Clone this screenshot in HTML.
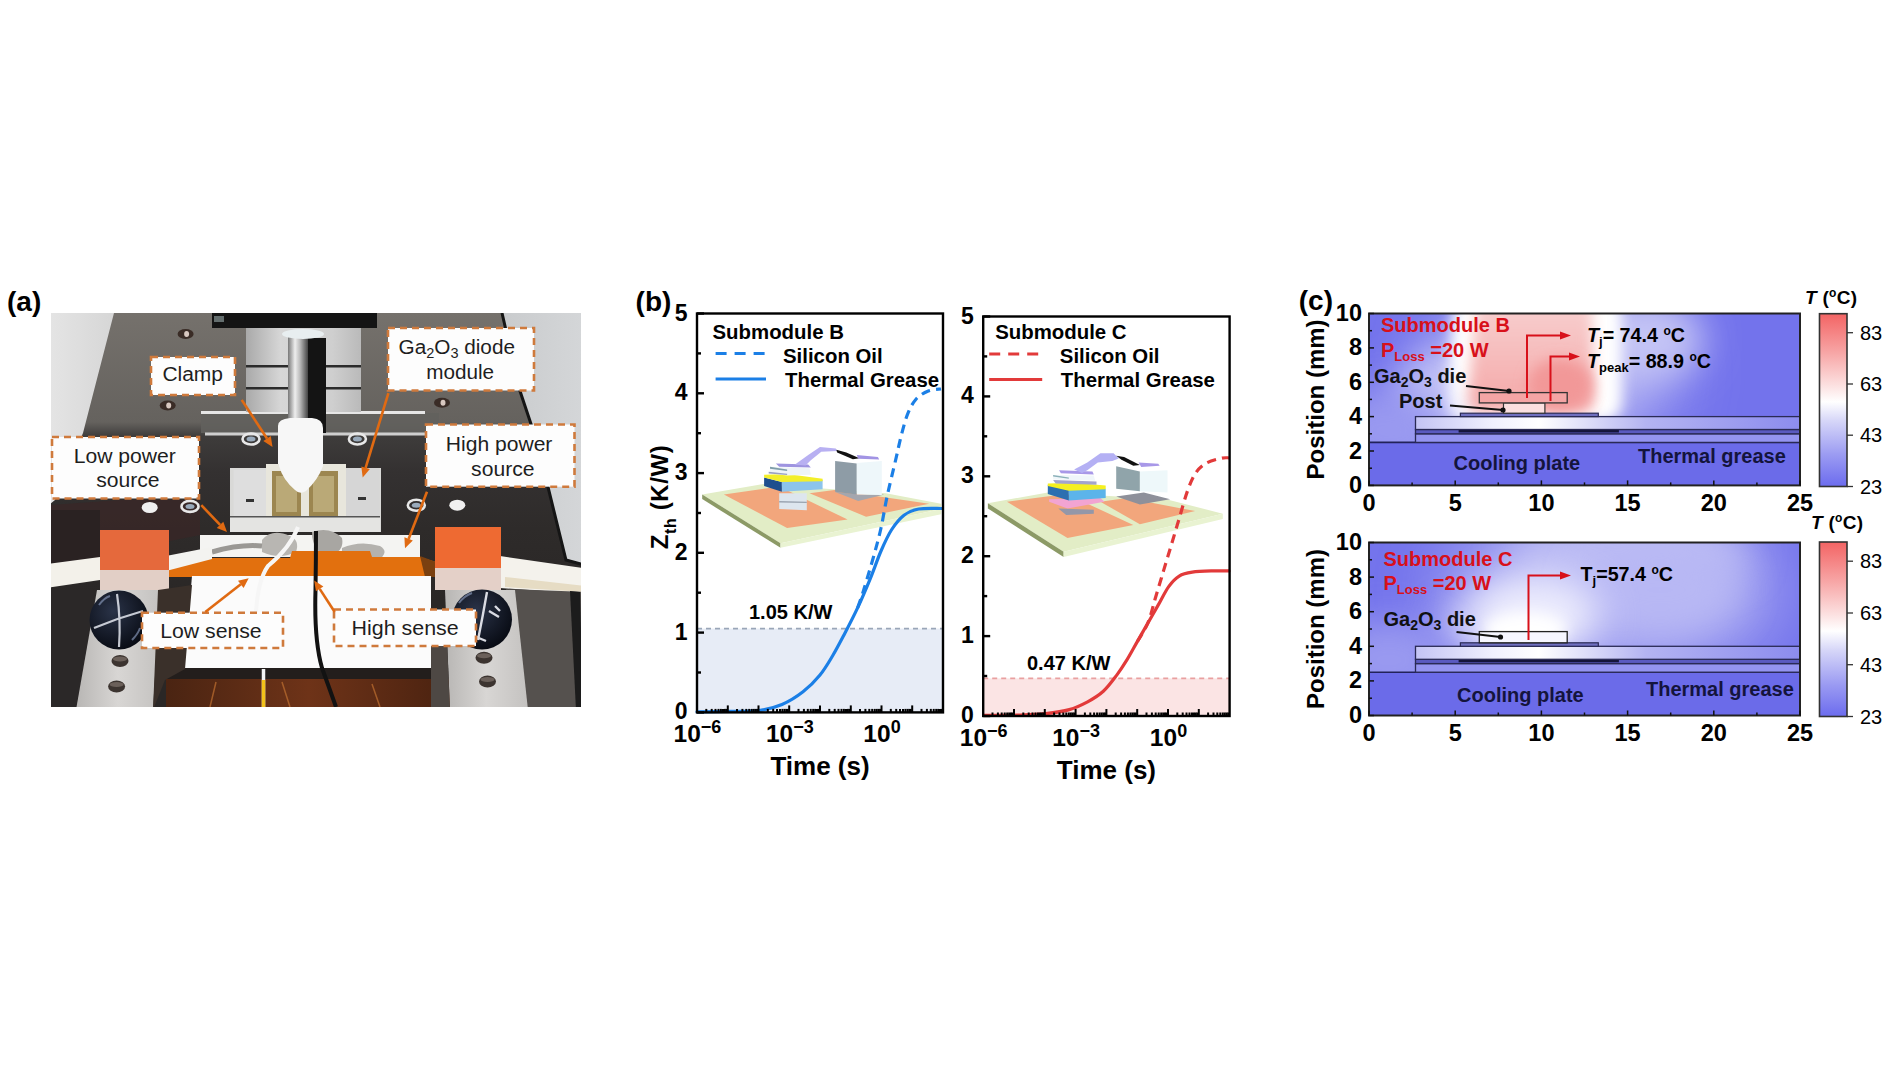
<!DOCTYPE html>
<html><head><meta charset="utf-8"><style>
html,body{margin:0;padding:0;background:#fff;}
body{width:1900px;height:1070px;overflow:hidden;}
svg{display:block;}
text{font-family:"Liberation Sans",sans-serif;}
</style></head><body>
<svg width="1900" height="1070" viewBox="0 0 1900 1070" font-family="Liberation Sans, sans-serif">
<rect width="1900" height="1070" fill="#fff"/>
<text x="7" y="310.5" font-size="28" font-weight="bold">(a)</text>
<defs><clipPath id="clipa"><rect x="51" y="313" width="530" height="394"/></clipPath><linearGradient id="bgA" x1="0" x2="1" y1="0" y2="0"><stop offset="0" stop-color="#e4e4e4"/><stop offset="0.12" stop-color="#d6d6d6"/><stop offset="0.85" stop-color="#c9cbcd"/><stop offset="1" stop-color="#d4d6d8"/></linearGradient><linearGradient id="plateG" x1="0" x2="0" y1="313" y2="600" gradientUnits="userSpaceOnUse"><stop offset="0" stop-color="#75716c"/><stop offset="0.38" stop-color="#65625e"/><stop offset="0.43" stop-color="#3e3c3b"/><stop offset="0.55" stop-color="#343131"/><stop offset="0.75" stop-color="#2e2b2a"/><stop offset="1" stop-color="#2a2726"/></linearGradient><linearGradient id="metal" x1="0" x2="1"><stop offset="0" stop-color="#777"/><stop offset="0.35" stop-color="#eee"/><stop offset="0.6" stop-color="#bbb"/><stop offset="1" stop-color="#444"/></linearGradient><linearGradient id="blockG" x1="0" x2="1"><stop offset="0" stop-color="#a9a9a9"/><stop offset="0.3" stop-color="#d6d6d6"/><stop offset="0.75" stop-color="#cfcfcf"/><stop offset="1" stop-color="#bababa"/></linearGradient><linearGradient id="brown" x1="0" x2="1"><stop offset="0" stop-color="#4a2412"/><stop offset="0.5" stop-color="#6e3318"/><stop offset="1" stop-color="#4a2210"/></linearGradient><linearGradient id="holderG" x1="0" x2="1"><stop offset="0" stop-color="#b8b6b4"/><stop offset="0.5" stop-color="#d8d6d4"/><stop offset="1" stop-color="#c4c2c0"/></linearGradient><radialGradient id="knobG" cx="0.4" cy="0.35" r="0.7"><stop offset="0" stop-color="#2a3348"/><stop offset="1" stop-color="#070a12"/></radialGradient></defs>
<g clip-path="url(#clipa)">
<rect x="51" y="313" width="530" height="394" fill="url(#bgA)"/>
<polygon points="114,313 502,313 520,391 531,424 548,487 566,560 590,566 590,710 40,710 40,512 55,500 83,433" fill="url(#plateG)"/>
<polyline points="502,313 520,391 531,424 548,487 566,560 581,564" fill="none" stroke="#151515" stroke-width="3"/>
<polygon points="51,505 120,500 200,500 200,535 51,565" fill="#3a2626" opacity="0.7"/>
<rect x="201" y="413" width="238" height="20" fill="#62605d" opacity="0.9"/>
<rect x="201" y="411" width="224" height="3" fill="#e6e6e6"/>
<rect x="205" y="432.5" width="234" height="3" fill="#cfcfcf"/>
<rect x="212" y="313" width="165" height="15" fill="#141414"/>
<rect x="214" y="316" width="10" height="6" fill="#9aa" opacity="0.6"/>
<rect x="246" y="328" width="115" height="84" fill="url(#blockG)"/>
<rect x="246" y="365" width="115" height="2.5" fill="#2b2b2b"/>
<rect x="246" y="387" width="115" height="2.5" fill="#2b2b2b"/>
<rect x="307" y="338" width="19" height="95" fill="#141414"/>
<rect x="288" y="336" width="20" height="92" fill="url(#metal)"/>
<ellipse cx="303" cy="334" rx="21" ry="5" fill="#e8eef0"/>
<path d="M278,426 Q278,419 290,418 L312,418 Q323,419 323,428 L323,466 Q318,480 306,491 Q300,495 295,490 Q283,480 278,466 Z" fill="#f7f7f7"/>
<rect x="230" y="468" width="151" height="64" fill="#d9d9d7"/>
<rect x="233.5" y="470" width="34" height="46" fill="#dedede"/>
<rect x="345.5" y="468" width="34" height="48" fill="#d6d6d6"/>
<rect x="266" y="464" width="80" height="53" fill="#e8e6dc"/>
<rect x="272" y="471" width="29" height="46" fill="#9c8650"/>
<rect x="309" y="471" width="29" height="46" fill="#9c8650"/>
<rect x="276" y="476" width="21" height="36" fill="#c8b888" opacity="0.7"/>
<rect x="313" y="476" width="21" height="36" fill="#c8b888" opacity="0.7"/>
<path d="M279,455 L323,455 L323,466 Q318,480 306,491 Q300,495 295,490 Q283,480 279,466 Z" fill="#f7f7f7"/>
<rect x="246" y="499" width="8" height="3" fill="#333"/><rect x="358" y="497" width="8" height="3" fill="#333"/>
<rect x="230" y="517" width="150" height="15" fill="#e4e4e2"/>
<rect x="230" y="516" width="150" height="1.5" fill="#555"/>
<ellipse cx="185.6" cy="334" rx="8" ry="5" fill="#3a2c26"/><ellipse cx="186.6" cy="334" rx="2.5" ry="3" fill="#d8c8c0"/>
<ellipse cx="167.7" cy="405.5" rx="8" ry="5" fill="#3a2c26"/><ellipse cx="168.7" cy="405.5" rx="2.5" ry="3" fill="#d8c8c0"/>
<ellipse cx="442" cy="402.7" rx="8" ry="5" fill="#3a2c26"/><ellipse cx="443" cy="402.7" rx="2.5" ry="3" fill="#d8c8c0"/>
<ellipse cx="251" cy="439" rx="8.5" ry="5.5" fill="none" stroke="#e8e8e8" stroke-width="2.6"/><ellipse cx="251" cy="439" rx="4.5" ry="2.5" fill="#9ab"/>
<ellipse cx="357.4" cy="439" rx="8.5" ry="5.5" fill="none" stroke="#e8e8e8" stroke-width="2.6"/><ellipse cx="357.4" cy="439" rx="4.5" ry="2.5" fill="#9ab"/>
<ellipse cx="190" cy="506.4" rx="8.5" ry="5.5" fill="none" stroke="#e8e8e8" stroke-width="2.6"/><ellipse cx="190" cy="506.4" rx="4.5" ry="2.5" fill="#9ab"/>
<ellipse cx="416.3" cy="505.2" rx="8.5" ry="5.5" fill="none" stroke="#e8e8e8" stroke-width="2.6"/><ellipse cx="416.3" cy="505.2" rx="4.5" ry="2.5" fill="#9ab"/>
<ellipse cx="149.7" cy="507.5" rx="8" ry="5.5" fill="#f0f0f0"/>
<ellipse cx="457.3" cy="505.2" rx="8" ry="5.5" fill="#f0f0f0"/>
<rect x="200" y="535" width="220" height="22" fill="#f4f4f2"/>
<path d="M262,540 Q272,528 290,536 Q300,540 296,552 Q280,560 262,552 Z" fill="#b8b6b2"/>
<path d="M312,532 Q330,526 342,538 Q345,552 328,556 Q312,552 312,532 Z" fill="#a8a6a2"/>
<path d="M342,548 Q360,540 380,546 Q390,552 378,560 Q360,562 342,556 Z" fill="#b4b2ae"/>
<path d="M212,552 Q240,544 262,546" fill="none" stroke="#9a9894" stroke-width="5"/>
<polygon points="160,562 200,558 290,558 292,551 370,551 372,557 420,557 436,562 436,577 160,577" fill="#e2700e"/>
<polygon points="420,556 436,562 436,577 425,577" fill="#7a4010"/>
<polygon points="192,576 431,576 431,669 184,669" fill="#fbfbfb"/>
<rect x="160" y="668" width="292" height="11" fill="#231e1c"/>
<rect x="166" y="679" width="286" height="30" fill="url(#brown)"/>
<path d="M210,707 L216,682 M290,707 L282,682 M380,707 L372,684" stroke="#c07030" stroke-width="1.5" opacity="0.7"/>
<path d="M298,527 Q290,548 268,566 Q258,580 256,612" fill="none" stroke="#f6f6f6" stroke-width="4"/>
<path d="M263.5,669 L263.5,707" stroke="#f4f4f4" stroke-width="3.5"/><path d="M263.5,680 L263.5,707" stroke="#f2c21a" stroke-width="3.5"/>
<path d="M316,531 Q316,560 315.5,590 Q314,640 322,668 Q330,690 336,707" fill="none" stroke="#121212" stroke-width="4"/>
<polygon points="51,510 100,510 100,565 51,566" fill="#2a2222"/>
<polygon points="40,565 100,557 100,580 40,589" fill="#f3f1ea"/>
<polygon points="166,556 212,547 212,559 166,571" fill="#f3f3f0"/>
<polygon points="500,556 590,569 590,594 500,588" fill="#f4f2ec"/>
<polygon points="505,577 585,586 585,592 505,587" fill="#e6dcc4"/>
<rect x="100" y="530" width="69" height="41" fill="#e5693c"/>
<rect x="100" y="570" width="69" height="20" fill="#e2cfc6"/>
<rect x="435" y="527" width="66" height="42" fill="#ee6a32"/>
<rect x="435" y="568" width="66" height="22" fill="#e4d0c8"/>
<polygon points="40,590 97,590 76,710 40,710" fill="#2b2828"/>
<polygon points="97,590 160,590 153,710 76,710" fill="url(#holderG)"/>
<polygon points="158,590 192,585 185,669 165,680 153,710" fill="#3a302a"/>
<polygon points="506,589 590,592 590,710 525,710" fill="#55514e"/>
<polygon points="570,591 580,592 583,710 576,710" fill="#1c1c1c"/>
<polygon points="445,590 515,590 528,710 450,710" fill="url(#holderG)"/>
<polygon points="431,640 447,640 450,710 431,710" fill="#4e4844"/>
<ellipse cx="120" cy="661" rx="8.5" ry="6" fill="#3c3430"/><ellipse cx="120" cy="659" rx="7" ry="2.5" fill="#8a7e76" opacity="0.6"/>
<ellipse cx="116.6" cy="686.4" rx="8.5" ry="6" fill="#3c3430"/><ellipse cx="116.6" cy="684.4" rx="7" ry="2.5" fill="#8a7e76" opacity="0.6"/>
<ellipse cx="484" cy="657.8" rx="8.5" ry="6" fill="#3c3430"/><ellipse cx="484" cy="655.8" rx="7" ry="2.5" fill="#8a7e76" opacity="0.6"/>
<ellipse cx="487.5" cy="681.4" rx="8.5" ry="6" fill="#3c3430"/><ellipse cx="487.5" cy="679.4" rx="7" ry="2.5" fill="#8a7e76" opacity="0.6"/>
<circle cx="119" cy="620" r="29.5" fill="url(#knobG)"/>
<path d="M117,594 Q121,620 119,647 M94,628 Q118,618 143,611" fill="none" stroke="#e4e8f0" stroke-width="2.2" opacity="0.85"/>
<path d="M99,605 Q104,598 110,596 M132,640 Q138,634 140,628" fill="none" stroke="#8090b0" stroke-width="2" opacity="0.7"/>
<circle cx="482" cy="619.5" r="30" fill="url(#knobG)"/>
<path d="M487,592 Q483,615 478,640 M489,611 L499,617 M495,606 L500,611 M474,636 L486,641" fill="none" stroke="#eef0f6" stroke-width="2.4" opacity="0.9"/>
<path d="M459,603 Q464,596 472,593" fill="none" stroke="#8090b0" stroke-width="2" opacity="0.7"/>
</g>
<rect x="151" y="357" width="84" height="38" fill="#fdfdfd" stroke="#cf7a3c" stroke-width="2.6" stroke-dasharray="7,5"/>
<text x="162.4" y="381.4" font-size="20" fill="#1e1e1e" textLength="60.6" lengthAdjust="spacingAndGlyphs">Clamp</text>
<line x1="241.7" y1="399.9" x2="267.0" y2="438.5" stroke="#e06a12" stroke-width="2.6"/><polygon points="272.5,446.9 263.3,441.0 270.8,436.1" fill="#e06a12"/>
<rect x="388" y="328" width="146" height="62.5" fill="#fdfdfd" stroke="#cf7a3c" stroke-width="2.6" stroke-dasharray="7,5"/>
<text x="398.5" y="354" font-size="20" fill="#1e1e1e" textLength="116.5" lengthAdjust="spacingAndGlyphs">Ga<tspan font-size="14" dy="4">2</tspan><tspan dy="-4">O</tspan><tspan font-size="14" dy="4">3</tspan><tspan dy="-4"> diode</tspan></text>
<text x="426.2" y="379.2" font-size="20" fill="#1e1e1e" textLength="67.9" lengthAdjust="spacingAndGlyphs">module</text>
<line x1="388.4" y1="393.1" x2="365.6" y2="467.8" stroke="#e06a12" stroke-width="2.6"/><polygon points="362.7,477.4 361.3,466.5 369.9,469.1" fill="#e06a12"/>
<rect x="52" y="437" width="147" height="61.5" fill="#fdfdfd" stroke="#cf7a3c" stroke-width="2.6" stroke-dasharray="7,5"/>
<text x="73.7" y="462.6" font-size="20" fill="#1e1e1e" textLength="102.2" lengthAdjust="spacingAndGlyphs">Low power</text>
<text x="96.2" y="487.3" font-size="20" fill="#1e1e1e" textLength="63.4" lengthAdjust="spacingAndGlyphs">source</text>
<line x1="201.3" y1="505.2" x2="220.1" y2="524.8" stroke="#e06a12" stroke-width="2.6"/><polygon points="227,532 216.8,527.9 223.3,521.7" fill="#e06a12"/>
<rect x="426" y="424.5" width="148.5" height="62.19999999999999" fill="#fdfdfd" stroke="#cf7a3c" stroke-width="2.6" stroke-dasharray="7,5"/>
<text x="445.8" y="450.8" font-size="20" fill="#1e1e1e" textLength="106.6" lengthAdjust="spacingAndGlyphs">High power</text>
<text x="471.1" y="476" font-size="20" fill="#1e1e1e" textLength="63.4" lengthAdjust="spacingAndGlyphs">source</text>
<line x1="427" y1="491.8" x2="408.6" y2="539.0" stroke="#e06a12" stroke-width="2.6"/><polygon points="405,548.3 404.4,537.3 412.8,540.6" fill="#e06a12"/>
<rect x="142" y="612.7" width="141" height="35.299999999999955" fill="#fdfdfd" stroke="#cf7a3c" stroke-width="2.6" stroke-dasharray="7,5"/>
<text x="160.2" y="638.2" font-size="20" fill="#1e1e1e" textLength="101.5" lengthAdjust="spacingAndGlyphs">Low sense</text>
<line x1="205.3" y1="612" x2="240.8" y2="584.3" stroke="#e06a12" stroke-width="2.6"/><polygon points="248.7,578.2 243.6,587.9 238.0,580.8" fill="#e06a12"/>
<rect x="334" y="609.5" width="142" height="36.5" fill="#fdfdfd" stroke="#cf7a3c" stroke-width="2.6" stroke-dasharray="7,5"/>
<text x="351.6" y="635" font-size="20" fill="#1e1e1e" textLength="107.1" lengthAdjust="spacingAndGlyphs">High sense</text>
<line x1="334.7" y1="612" x2="319.7" y2="588.9" stroke="#e06a12" stroke-width="2.6"/><polygon points="314.2,580.5 323.4,586.4 315.9,591.3" fill="#e06a12"/>
<text x="635.6" y="310.8" font-size="28" font-weight="bold">(b)</text>
<text transform="translate(668.2,497.2) rotate(-90)" text-anchor="middle" font-size="24" font-weight="bold" textLength="104" lengthAdjust="spacing">Z<tspan font-size="16" dy="7.5">th</tspan><tspan dy="-7.5"> (K/W)</tspan></text>
<rect x="697" y="628.6" width="246" height="83.8" fill="#e7ecf6"/>
<line x1="697" y1="628.6" x2="943" y2="628.6" stroke="#9aa6b8" stroke-width="1.6" stroke-dasharray="5,4"/>
<polygon points="702.2,494.5 763.4,483.9 885.8,493.2 941.1,503.7 941.1,508.9 780.5,543.2" fill="#e2edc6" />
<polygon points="702.2,494.5 780.5,543.2 780.5,547.8 702.2,499.1" fill="#8c9a66" />
<polygon points="780.5,543.2 941.1,508.9 941.1,514.2 780.5,547.8" fill="#e9f3d2" />
<polygon points="723.9,494.5 779.2,486.6 847.6,519.5 787.1,528.0" fill="#f2a67c" />
<polygon points="809.5,493.2 834.5,489.9 929.2,503.7 866.1,516.8" fill="#f2a67c" />
<polygon points="779.2,493.2 806.8,493.2 806.8,510.3 779.2,508.9" fill="#dde6ee" />
<polygon points="779.2,501.1 806.8,501.7 806.8,503.0 779.2,502.4" fill="#9aa4b0" />
<polygon points="781.8,481.3 822.6,480.0 822.6,489.2 781.8,491.8" fill="#8cc4ec" />
<polygon points="764.1,477.4 781.8,482.0 781.8,491.8 764.1,485.9" fill="#1e4f8e" />
<polygon points="764.1,474.7 787.1,474.1 822.6,478.7 822.6,481.3 781.8,482.0 764.1,477.4" fill="#f3ef2a" />
<polygon points="770.0,466.8 809.5,468.2 810.8,474.7 787.1,475.4 770.0,473.4" fill="#eef4f8" />
<polygon points="770.0,466.8 787.1,469.5 787.1,471.1 770.0,468.7" fill="#7f9eaa" />
<polygon points="768.7,471.8 787.1,473.8 787.1,475.0 768.7,473.4" fill="#9aa0c0" />
<polygon points="775.9,463.6 808.2,464.5 810.8,467.5 779.2,466.8" fill="#9e94e0" />
<polygon points="795.0,464.5 808.2,455.0 820.0,447.1 835.8,448.4 837.1,451.1 821.3,451.7 810.8,460.3 805.5,465.5" fill="#b8b0f2" />
<polygon points="836.4,449.7 846.3,452.4 859.5,458.3 852.9,459.2 837.1,452.4" fill="#111" />
<polygon points="856.8,455.0 877.9,457.0 879.2,459.6 858.2,458.7" fill="#a294e4" />
<polygon points="834.5,491.8 858.2,494.5 884.5,494.5 858.2,501.1" fill="#a4a6ae" />
<polygon points="835.1,460.9 856.8,463.6 856.8,494.5 835.1,491.8" fill="#8e9ca6" />
<polygon points="856.8,462.9 881.8,460.9 881.8,495.1 856.8,494.5" fill="#eef7fa" />
<path d="M697.0,711.8 C702.5,711.7 719.7,711.6 730.0,711.4 C740.3,711.2 750.3,711.6 759.0,710.5 C767.7,709.4 774.7,707.6 782.0,704.5 C789.3,701.4 796.7,696.7 803.0,691.8 C809.3,686.9 815.1,681.0 820.0,675.0 C824.9,669.0 828.3,663.0 832.5,656.0 C836.7,649.0 840.8,641.0 845.0,633.0 C849.2,625.0 853.5,616.8 857.7,607.7 C861.9,598.6 866.5,587.8 870.4,578.3 C874.3,568.8 877.5,559.0 881.0,551.0 C884.5,543.0 887.6,536.0 891.4,530.0 C895.2,524.0 899.5,518.7 904.0,515.2 C908.5,511.7 912.4,510.1 918.7,509.0 C925.0,507.9 938.1,508.6 942.0,508.5" fill="none" stroke="#1b7fe6" stroke-width="3.2" stroke-linecap="round"/>
<path d="M857.7,607.7 C858.8,604.6 861.2,598.1 864.0,589.0 C866.8,579.9 871.8,563.2 874.6,553.0 C877.4,542.8 878.9,537.5 881.0,528.0 C883.1,518.5 884.8,507.2 887.2,496.0 C889.6,484.8 893.0,471.3 895.4,461.0 C897.8,450.7 899.5,442.1 901.6,434.2 C903.7,426.3 905.4,419.4 907.8,413.6 C910.2,407.8 912.6,403.0 916.0,399.2 C919.4,395.4 924.1,392.7 928.3,391.0 C932.5,389.3 938.9,389.3 941.0,389.0" fill="none" stroke="#1b7fe6" stroke-width="3.2" stroke-dasharray="9,6"/>
<rect x="697" y="313.5" width="246" height="398.9" fill="none" stroke="#000" stroke-width="2.4"/>
<line x1="697" y1="712.4" x2="704" y2="712.4" stroke="#000" stroke-width="2.4"/>
<line x1="697" y1="672.5" x2="701" y2="672.5" stroke="#000" stroke-width="2.4"/>
<line x1="697" y1="632.6" x2="704" y2="632.6" stroke="#000" stroke-width="2.4"/>
<line x1="697" y1="592.7" x2="701" y2="592.7" stroke="#000" stroke-width="2.4"/>
<line x1="697" y1="552.8" x2="704" y2="552.8" stroke="#000" stroke-width="2.4"/>
<line x1="697" y1="513.0" x2="701" y2="513.0" stroke="#000" stroke-width="2.4"/>
<line x1="697" y1="473.1" x2="704" y2="473.1" stroke="#000" stroke-width="2.4"/>
<line x1="697" y1="433.2" x2="701" y2="433.2" stroke="#000" stroke-width="2.4"/>
<line x1="697" y1="393.3" x2="704" y2="393.3" stroke="#000" stroke-width="2.4"/>
<line x1="697" y1="353.4" x2="701" y2="353.4" stroke="#000" stroke-width="2.4"/>
<line x1="697" y1="313.5" x2="704" y2="313.5" stroke="#000" stroke-width="2.4"/>
<line x1="706.3" y1="712.4" x2="706.3" y2="708.9" stroke="#000" stroke-width="2"/>
<line x1="711.7" y1="712.4" x2="711.7" y2="708.9" stroke="#000" stroke-width="2"/>
<line x1="715.5" y1="712.4" x2="715.5" y2="708.9" stroke="#000" stroke-width="2"/>
<line x1="718.5" y1="712.4" x2="718.5" y2="708.9" stroke="#000" stroke-width="2"/>
<line x1="720.9" y1="712.4" x2="720.9" y2="708.9" stroke="#000" stroke-width="2"/>
<line x1="723.0" y1="712.4" x2="723.0" y2="708.9" stroke="#000" stroke-width="2"/>
<line x1="724.8" y1="712.4" x2="724.8" y2="708.9" stroke="#000" stroke-width="2"/>
<line x1="726.3" y1="712.4" x2="726.3" y2="708.9" stroke="#000" stroke-width="2"/>
<line x1="727.8" y1="712.4" x2="727.8" y2="705.4" stroke="#000" stroke-width="2"/>
<line x1="737.0" y1="712.4" x2="737.0" y2="708.9" stroke="#000" stroke-width="2"/>
<line x1="742.4" y1="712.4" x2="742.4" y2="708.9" stroke="#000" stroke-width="2"/>
<line x1="746.3" y1="712.4" x2="746.3" y2="708.9" stroke="#000" stroke-width="2"/>
<line x1="749.2" y1="712.4" x2="749.2" y2="708.9" stroke="#000" stroke-width="2"/>
<line x1="751.7" y1="712.4" x2="751.7" y2="708.9" stroke="#000" stroke-width="2"/>
<line x1="753.7" y1="712.4" x2="753.7" y2="708.9" stroke="#000" stroke-width="2"/>
<line x1="755.5" y1="712.4" x2="755.5" y2="708.9" stroke="#000" stroke-width="2"/>
<line x1="757.1" y1="712.4" x2="757.1" y2="708.9" stroke="#000" stroke-width="2"/>
<line x1="758.5" y1="712.4" x2="758.5" y2="705.4" stroke="#000" stroke-width="2"/>
<line x1="767.8" y1="712.4" x2="767.8" y2="708.9" stroke="#000" stroke-width="2"/>
<line x1="773.2" y1="712.4" x2="773.2" y2="708.9" stroke="#000" stroke-width="2"/>
<line x1="777.0" y1="712.4" x2="777.0" y2="708.9" stroke="#000" stroke-width="2"/>
<line x1="780.0" y1="712.4" x2="780.0" y2="708.9" stroke="#000" stroke-width="2"/>
<line x1="782.4" y1="712.4" x2="782.4" y2="708.9" stroke="#000" stroke-width="2"/>
<line x1="784.5" y1="712.4" x2="784.5" y2="708.9" stroke="#000" stroke-width="2"/>
<line x1="786.3" y1="712.4" x2="786.3" y2="708.9" stroke="#000" stroke-width="2"/>
<line x1="787.8" y1="712.4" x2="787.8" y2="708.9" stroke="#000" stroke-width="2"/>
<line x1="789.2" y1="712.4" x2="789.2" y2="705.4" stroke="#000" stroke-width="2"/>
<line x1="798.5" y1="712.4" x2="798.5" y2="708.9" stroke="#000" stroke-width="2"/>
<line x1="803.9" y1="712.4" x2="803.9" y2="708.9" stroke="#000" stroke-width="2"/>
<line x1="807.8" y1="712.4" x2="807.8" y2="708.9" stroke="#000" stroke-width="2"/>
<line x1="810.7" y1="712.4" x2="810.7" y2="708.9" stroke="#000" stroke-width="2"/>
<line x1="813.2" y1="712.4" x2="813.2" y2="708.9" stroke="#000" stroke-width="2"/>
<line x1="815.2" y1="712.4" x2="815.2" y2="708.9" stroke="#000" stroke-width="2"/>
<line x1="817.0" y1="712.4" x2="817.0" y2="708.9" stroke="#000" stroke-width="2"/>
<line x1="818.6" y1="712.4" x2="818.6" y2="708.9" stroke="#000" stroke-width="2"/>
<line x1="820.0" y1="712.4" x2="820.0" y2="705.4" stroke="#000" stroke-width="2"/>
<line x1="829.3" y1="712.4" x2="829.3" y2="708.9" stroke="#000" stroke-width="2"/>
<line x1="834.7" y1="712.4" x2="834.7" y2="708.9" stroke="#000" stroke-width="2"/>
<line x1="838.5" y1="712.4" x2="838.5" y2="708.9" stroke="#000" stroke-width="2"/>
<line x1="841.5" y1="712.4" x2="841.5" y2="708.9" stroke="#000" stroke-width="2"/>
<line x1="843.9" y1="712.4" x2="843.9" y2="708.9" stroke="#000" stroke-width="2"/>
<line x1="846.0" y1="712.4" x2="846.0" y2="708.9" stroke="#000" stroke-width="2"/>
<line x1="847.8" y1="712.4" x2="847.8" y2="708.9" stroke="#000" stroke-width="2"/>
<line x1="849.3" y1="712.4" x2="849.3" y2="708.9" stroke="#000" stroke-width="2"/>
<line x1="850.8" y1="712.4" x2="850.8" y2="705.4" stroke="#000" stroke-width="2"/>
<line x1="860.0" y1="712.4" x2="860.0" y2="708.9" stroke="#000" stroke-width="2"/>
<line x1="865.4" y1="712.4" x2="865.4" y2="708.9" stroke="#000" stroke-width="2"/>
<line x1="869.3" y1="712.4" x2="869.3" y2="708.9" stroke="#000" stroke-width="2"/>
<line x1="872.2" y1="712.4" x2="872.2" y2="708.9" stroke="#000" stroke-width="2"/>
<line x1="874.7" y1="712.4" x2="874.7" y2="708.9" stroke="#000" stroke-width="2"/>
<line x1="876.7" y1="712.4" x2="876.7" y2="708.9" stroke="#000" stroke-width="2"/>
<line x1="878.5" y1="712.4" x2="878.5" y2="708.9" stroke="#000" stroke-width="2"/>
<line x1="880.1" y1="712.4" x2="880.1" y2="708.9" stroke="#000" stroke-width="2"/>
<line x1="881.5" y1="712.4" x2="881.5" y2="705.4" stroke="#000" stroke-width="2"/>
<line x1="890.8" y1="712.4" x2="890.8" y2="708.9" stroke="#000" stroke-width="2"/>
<line x1="896.2" y1="712.4" x2="896.2" y2="708.9" stroke="#000" stroke-width="2"/>
<line x1="900.0" y1="712.4" x2="900.0" y2="708.9" stroke="#000" stroke-width="2"/>
<line x1="903.0" y1="712.4" x2="903.0" y2="708.9" stroke="#000" stroke-width="2"/>
<line x1="905.4" y1="712.4" x2="905.4" y2="708.9" stroke="#000" stroke-width="2"/>
<line x1="907.5" y1="712.4" x2="907.5" y2="708.9" stroke="#000" stroke-width="2"/>
<line x1="909.3" y1="712.4" x2="909.3" y2="708.9" stroke="#000" stroke-width="2"/>
<line x1="910.8" y1="712.4" x2="910.8" y2="708.9" stroke="#000" stroke-width="2"/>
<line x1="912.2" y1="712.4" x2="912.2" y2="705.4" stroke="#000" stroke-width="2"/>
<line x1="921.5" y1="712.4" x2="921.5" y2="708.9" stroke="#000" stroke-width="2"/>
<line x1="926.9" y1="712.4" x2="926.9" y2="708.9" stroke="#000" stroke-width="2"/>
<line x1="930.8" y1="712.4" x2="930.8" y2="708.9" stroke="#000" stroke-width="2"/>
<line x1="933.7" y1="712.4" x2="933.7" y2="708.9" stroke="#000" stroke-width="2"/>
<line x1="936.2" y1="712.4" x2="936.2" y2="708.9" stroke="#000" stroke-width="2"/>
<line x1="938.2" y1="712.4" x2="938.2" y2="708.9" stroke="#000" stroke-width="2"/>
<line x1="940.0" y1="712.4" x2="940.0" y2="708.9" stroke="#000" stroke-width="2"/>
<line x1="941.6" y1="712.4" x2="941.6" y2="708.9" stroke="#000" stroke-width="2"/>
<text x="687.5" y="719.4" text-anchor="end" font-size="23" font-weight="bold">0</text>
<text x="687.5" y="639.6" text-anchor="end" font-size="23" font-weight="bold">1</text>
<text x="687.5" y="559.8" text-anchor="end" font-size="23" font-weight="bold">2</text>
<text x="687.5" y="480.1" text-anchor="end" font-size="23" font-weight="bold">3</text>
<text x="687.5" y="400.3" text-anchor="end" font-size="23" font-weight="bold">4</text>
<text x="687.5" y="320.5" text-anchor="end" font-size="23" font-weight="bold">5</text>
<text x="697.5" y="742.4" text-anchor="middle" font-size="24.5" font-weight="bold">10<tspan font-size="18" dy="-9.5">−6</tspan></text>
<text x="789.8" y="742.4" text-anchor="middle" font-size="24.5" font-weight="bold">10<tspan font-size="18" dy="-9.5">−3</tspan></text>
<text x="882.0" y="742.4" text-anchor="middle" font-size="24.5" font-weight="bold">10<tspan font-size="18" dy="-9.5">0</tspan></text>
<text x="820.0" y="774.9" text-anchor="middle" font-size="26" font-weight="bold">Time (s)</text>
<text x="712.5" y="338.5" font-size="20.4" font-weight="bold">Submodule B</text>
<line x1="715.6" y1="353.5" x2="766" y2="353.5" stroke="#1b7fe6" stroke-width="3" stroke-dasharray="11,8"/>
<line x1="715.6" y1="379.0" x2="766" y2="379.0" stroke="#1b7fe6" stroke-width="3"/>
<text x="783" y="362.5" font-size="20.4" font-weight="bold">Silicon Oil</text>
<text x="785" y="386.5" font-size="20.4" font-weight="bold">Thermal Grease</text>
<text x="749" y="618.5" font-size="20" font-weight="bold">1.05 K/W</text>
<rect x="983.2" y="678.4" width="246.39999999999986" height="37.6" fill="#fbe4e4"/>
<line x1="983.2" y1="678.4" x2="1229.6" y2="678.4" stroke="#e9a0a0" stroke-width="1.6" stroke-dasharray="5,4"/>
<polygon points="987.9,503.2 1047.8,492.6 1166.2,499.2 1222.8,513.7 1063.6,551.8" fill="#e2edc6" />
<polygon points="987.9,503.2 1063.6,551.8 1063.6,557.1 987.9,508.4" fill="#8c9a66" />
<polygon points="1063.6,551.8 1222.8,513.7 1222.8,518.9 1063.6,557.1" fill="#e9f3d2" />
<polygon points="1007.0,501.8 1066.2,493.9 1133.3,524.9 1067.5,538.0" fill="#f2a67c" />
<polygon points="1100.4,501.8 1126.7,497.9 1195.2,511.1 1139.9,524.2" fill="#f2a67c" />
<polygon points="1049.1,499.2 1100.4,497.9 1104.4,501.8 1067.5,508.4 1049.1,501.8" fill="#f2a4d2" />
<polygon points="1058.3,508.4 1093.8,509.7 1093.8,513.7 1066.2,515.0" fill="#9497a8" />
<polygon points="1068.8,490.0 1105.7,488.7 1105.7,497.9 1068.8,500.5" fill="#5cb4ea" />
<polygon points="1047.8,484.7 1068.8,490.0 1068.8,500.5 1047.8,493.9" fill="#2d6fb0" />
<polygon points="1047.8,483.4 1074.1,482.8 1105.7,485.4 1105.7,489.3 1068.8,490.7 1047.8,486.1" fill="#f5f020" />
<polygon points="1053.1,480.1 1096.5,481.4 1096.5,484.7 1055.7,483.4" fill="#a4a4cc" />
<polygon points="1053.1,474.9 1093.8,475.5 1095.2,480.8 1053.1,479.5" fill="#f0f6fa" />
<polygon points="1053.1,474.9 1068.8,477.5 1068.8,478.8 1053.1,476.6" fill="#8ab0b8" />
<polygon points="1059.0,470.3 1092.5,471.6 1093.8,474.5 1060.9,473.2" fill="#a898e8" />
<polygon points="1074.1,469.6 1087.3,462.4 1100.4,453.2 1113.6,453.2 1118.8,458.4 1112.3,461.1 1097.8,462.4 1087.3,470.3 1082.0,472.9" fill="#b4b0f4" />
<polygon points="1116.2,455.8 1124.1,457.1 1139.9,465.0 1133.3,465.7 1121.5,459.7" fill="#111" />
<polygon points="1138.6,462.4 1158.3,463.7 1159.6,465.7 1141.2,467.0" fill="#a898e8" />
<polygon points="1116.2,496.6 1143.8,492.6 1170.2,499.2 1139.9,504.5" fill="#8e909a" />
<polygon points="1116.2,466.3 1139.9,471.6 1139.9,491.3 1116.2,488.7" fill="#90a4aa" />
<polygon points="1139.9,471.6 1167.5,470.3 1167.5,492.6 1139.9,491.3" fill="#eef8fa" />
<path d="M984.0,715.4 C990.0,715.3 1009.7,715.3 1020.0,715.0 C1030.3,714.7 1037.5,714.5 1045.7,713.6 C1053.9,712.7 1062.3,711.6 1069.3,709.6 C1076.3,707.6 1081.9,704.8 1087.6,701.8 C1093.3,698.8 1098.5,695.7 1103.3,691.3 C1108.1,686.9 1112.5,680.8 1116.4,675.6 C1120.3,670.4 1123.4,665.6 1126.9,659.9 C1130.4,654.2 1133.8,647.7 1137.3,641.6 C1140.8,635.5 1144.3,629.3 1147.8,623.2 C1151.3,617.1 1154.8,611.0 1158.3,604.9 C1161.8,598.8 1165.2,591.4 1168.7,586.6 C1172.2,581.8 1175.3,578.5 1179.2,576.1 C1183.1,573.7 1186.6,573.1 1192.3,572.2 C1198.0,571.3 1207.1,571.1 1213.2,570.9 C1219.3,570.7 1226.4,570.9 1229.0,570.9" fill="none" stroke="#e23a3a" stroke-width="3.2" stroke-linecap="round"/>
<path d="M1137.3,641.6 C1139.0,638.5 1144.7,630.6 1147.8,623.2 C1150.9,615.8 1153.1,605.7 1155.7,597.0 C1158.3,588.3 1160.9,579.6 1163.5,570.9 C1166.1,562.2 1168.8,553.4 1171.4,544.7 C1174.0,536.0 1176.6,527.2 1179.2,518.5 C1181.8,509.8 1184.4,499.8 1187.0,492.4 C1189.6,485.0 1191.9,478.8 1195.0,474.0 C1198.1,469.2 1201.1,466.2 1205.4,463.6 C1209.7,461.0 1217.1,459.3 1221.0,458.3 C1224.9,457.3 1227.7,457.9 1229.0,457.8" fill="none" stroke="#e23a3a" stroke-width="3.2" stroke-dasharray="9,6"/>
<rect x="983.2" y="316.5" width="246.39999999999986" height="399.5" fill="none" stroke="#000" stroke-width="2.4"/>
<line x1="983.2" y1="716.0" x2="990.2" y2="716.0" stroke="#000" stroke-width="2.4"/>
<line x1="983.2" y1="676.0" x2="987.2" y2="676.0" stroke="#000" stroke-width="2.4"/>
<line x1="983.2" y1="636.1" x2="990.2" y2="636.1" stroke="#000" stroke-width="2.4"/>
<line x1="983.2" y1="596.1" x2="987.2" y2="596.1" stroke="#000" stroke-width="2.4"/>
<line x1="983.2" y1="556.2" x2="990.2" y2="556.2" stroke="#000" stroke-width="2.4"/>
<line x1="983.2" y1="516.2" x2="987.2" y2="516.2" stroke="#000" stroke-width="2.4"/>
<line x1="983.2" y1="476.3" x2="990.2" y2="476.3" stroke="#000" stroke-width="2.4"/>
<line x1="983.2" y1="436.3" x2="987.2" y2="436.3" stroke="#000" stroke-width="2.4"/>
<line x1="983.2" y1="396.4" x2="990.2" y2="396.4" stroke="#000" stroke-width="2.4"/>
<line x1="983.2" y1="356.4" x2="987.2" y2="356.4" stroke="#000" stroke-width="2.4"/>
<line x1="983.2" y1="316.5" x2="990.2" y2="316.5" stroke="#000" stroke-width="2.4"/>
<line x1="992.5" y1="716" x2="992.5" y2="712.5" stroke="#000" stroke-width="2"/>
<line x1="997.9" y1="716" x2="997.9" y2="712.5" stroke="#000" stroke-width="2"/>
<line x1="1001.7" y1="716" x2="1001.7" y2="712.5" stroke="#000" stroke-width="2"/>
<line x1="1004.7" y1="716" x2="1004.7" y2="712.5" stroke="#000" stroke-width="2"/>
<line x1="1007.2" y1="716" x2="1007.2" y2="712.5" stroke="#000" stroke-width="2"/>
<line x1="1009.2" y1="716" x2="1009.2" y2="712.5" stroke="#000" stroke-width="2"/>
<line x1="1011.0" y1="716" x2="1011.0" y2="712.5" stroke="#000" stroke-width="2"/>
<line x1="1012.6" y1="716" x2="1012.6" y2="712.5" stroke="#000" stroke-width="2"/>
<line x1="1014.0" y1="716" x2="1014.0" y2="709" stroke="#000" stroke-width="2"/>
<line x1="1023.3" y1="716" x2="1023.3" y2="712.5" stroke="#000" stroke-width="2"/>
<line x1="1028.7" y1="716" x2="1028.7" y2="712.5" stroke="#000" stroke-width="2"/>
<line x1="1032.5" y1="716" x2="1032.5" y2="712.5" stroke="#000" stroke-width="2"/>
<line x1="1035.5" y1="716" x2="1035.5" y2="712.5" stroke="#000" stroke-width="2"/>
<line x1="1038.0" y1="716" x2="1038.0" y2="712.5" stroke="#000" stroke-width="2"/>
<line x1="1040.0" y1="716" x2="1040.0" y2="712.5" stroke="#000" stroke-width="2"/>
<line x1="1041.8" y1="716" x2="1041.8" y2="712.5" stroke="#000" stroke-width="2"/>
<line x1="1043.4" y1="716" x2="1043.4" y2="712.5" stroke="#000" stroke-width="2"/>
<line x1="1044.8" y1="716" x2="1044.8" y2="709" stroke="#000" stroke-width="2"/>
<line x1="1054.1" y1="716" x2="1054.1" y2="712.5" stroke="#000" stroke-width="2"/>
<line x1="1059.5" y1="716" x2="1059.5" y2="712.5" stroke="#000" stroke-width="2"/>
<line x1="1063.3" y1="716" x2="1063.3" y2="712.5" stroke="#000" stroke-width="2"/>
<line x1="1066.3" y1="716" x2="1066.3" y2="712.5" stroke="#000" stroke-width="2"/>
<line x1="1068.8" y1="716" x2="1068.8" y2="712.5" stroke="#000" stroke-width="2"/>
<line x1="1070.8" y1="716" x2="1070.8" y2="712.5" stroke="#000" stroke-width="2"/>
<line x1="1072.6" y1="716" x2="1072.6" y2="712.5" stroke="#000" stroke-width="2"/>
<line x1="1074.2" y1="716" x2="1074.2" y2="712.5" stroke="#000" stroke-width="2"/>
<line x1="1075.6" y1="716" x2="1075.6" y2="709" stroke="#000" stroke-width="2"/>
<line x1="1084.9" y1="716" x2="1084.9" y2="712.5" stroke="#000" stroke-width="2"/>
<line x1="1090.3" y1="716" x2="1090.3" y2="712.5" stroke="#000" stroke-width="2"/>
<line x1="1094.1" y1="716" x2="1094.1" y2="712.5" stroke="#000" stroke-width="2"/>
<line x1="1097.1" y1="716" x2="1097.1" y2="712.5" stroke="#000" stroke-width="2"/>
<line x1="1099.6" y1="716" x2="1099.6" y2="712.5" stroke="#000" stroke-width="2"/>
<line x1="1101.6" y1="716" x2="1101.6" y2="712.5" stroke="#000" stroke-width="2"/>
<line x1="1103.4" y1="716" x2="1103.4" y2="712.5" stroke="#000" stroke-width="2"/>
<line x1="1105.0" y1="716" x2="1105.0" y2="712.5" stroke="#000" stroke-width="2"/>
<line x1="1106.4" y1="716" x2="1106.4" y2="709" stroke="#000" stroke-width="2"/>
<line x1="1115.7" y1="716" x2="1115.7" y2="712.5" stroke="#000" stroke-width="2"/>
<line x1="1121.1" y1="716" x2="1121.1" y2="712.5" stroke="#000" stroke-width="2"/>
<line x1="1124.9" y1="716" x2="1124.9" y2="712.5" stroke="#000" stroke-width="2"/>
<line x1="1127.9" y1="716" x2="1127.9" y2="712.5" stroke="#000" stroke-width="2"/>
<line x1="1130.4" y1="716" x2="1130.4" y2="712.5" stroke="#000" stroke-width="2"/>
<line x1="1132.4" y1="716" x2="1132.4" y2="712.5" stroke="#000" stroke-width="2"/>
<line x1="1134.2" y1="716" x2="1134.2" y2="712.5" stroke="#000" stroke-width="2"/>
<line x1="1135.8" y1="716" x2="1135.8" y2="712.5" stroke="#000" stroke-width="2"/>
<line x1="1137.2" y1="716" x2="1137.2" y2="709" stroke="#000" stroke-width="2"/>
<line x1="1146.5" y1="716" x2="1146.5" y2="712.5" stroke="#000" stroke-width="2"/>
<line x1="1151.9" y1="716" x2="1151.9" y2="712.5" stroke="#000" stroke-width="2"/>
<line x1="1155.7" y1="716" x2="1155.7" y2="712.5" stroke="#000" stroke-width="2"/>
<line x1="1158.7" y1="716" x2="1158.7" y2="712.5" stroke="#000" stroke-width="2"/>
<line x1="1161.2" y1="716" x2="1161.2" y2="712.5" stroke="#000" stroke-width="2"/>
<line x1="1163.2" y1="716" x2="1163.2" y2="712.5" stroke="#000" stroke-width="2"/>
<line x1="1165.0" y1="716" x2="1165.0" y2="712.5" stroke="#000" stroke-width="2"/>
<line x1="1166.6" y1="716" x2="1166.6" y2="712.5" stroke="#000" stroke-width="2"/>
<line x1="1168.0" y1="716" x2="1168.0" y2="709" stroke="#000" stroke-width="2"/>
<line x1="1177.3" y1="716" x2="1177.3" y2="712.5" stroke="#000" stroke-width="2"/>
<line x1="1182.7" y1="716" x2="1182.7" y2="712.5" stroke="#000" stroke-width="2"/>
<line x1="1186.5" y1="716" x2="1186.5" y2="712.5" stroke="#000" stroke-width="2"/>
<line x1="1189.5" y1="716" x2="1189.5" y2="712.5" stroke="#000" stroke-width="2"/>
<line x1="1192.0" y1="716" x2="1192.0" y2="712.5" stroke="#000" stroke-width="2"/>
<line x1="1194.0" y1="716" x2="1194.0" y2="712.5" stroke="#000" stroke-width="2"/>
<line x1="1195.8" y1="716" x2="1195.8" y2="712.5" stroke="#000" stroke-width="2"/>
<line x1="1197.4" y1="716" x2="1197.4" y2="712.5" stroke="#000" stroke-width="2"/>
<line x1="1198.8" y1="716" x2="1198.8" y2="709" stroke="#000" stroke-width="2"/>
<line x1="1208.1" y1="716" x2="1208.1" y2="712.5" stroke="#000" stroke-width="2"/>
<line x1="1213.5" y1="716" x2="1213.5" y2="712.5" stroke="#000" stroke-width="2"/>
<line x1="1217.3" y1="716" x2="1217.3" y2="712.5" stroke="#000" stroke-width="2"/>
<line x1="1220.3" y1="716" x2="1220.3" y2="712.5" stroke="#000" stroke-width="2"/>
<line x1="1222.8" y1="716" x2="1222.8" y2="712.5" stroke="#000" stroke-width="2"/>
<line x1="1224.8" y1="716" x2="1224.8" y2="712.5" stroke="#000" stroke-width="2"/>
<line x1="1226.6" y1="716" x2="1226.6" y2="712.5" stroke="#000" stroke-width="2"/>
<line x1="1228.2" y1="716" x2="1228.2" y2="712.5" stroke="#000" stroke-width="2"/>
<text x="973.7" y="723.0" text-anchor="end" font-size="23" font-weight="bold">0</text>
<text x="973.7" y="643.1" text-anchor="end" font-size="23" font-weight="bold">1</text>
<text x="973.7" y="563.2" text-anchor="end" font-size="23" font-weight="bold">2</text>
<text x="973.7" y="483.3" text-anchor="end" font-size="23" font-weight="bold">3</text>
<text x="973.7" y="403.4" text-anchor="end" font-size="23" font-weight="bold">4</text>
<text x="973.7" y="323.5" text-anchor="end" font-size="23" font-weight="bold">5</text>
<text x="983.7" y="746.0" text-anchor="middle" font-size="24.5" font-weight="bold">10<tspan font-size="18" dy="-9.5">−6</tspan></text>
<text x="1076.1" y="746.0" text-anchor="middle" font-size="24.5" font-weight="bold">10<tspan font-size="18" dy="-9.5">−3</tspan></text>
<text x="1168.5" y="746.0" text-anchor="middle" font-size="24.5" font-weight="bold">10<tspan font-size="18" dy="-9.5">0</tspan></text>
<text x="1106.4" y="778.5" text-anchor="middle" font-size="26" font-weight="bold">Time (s)</text>
<text x="995.2" y="339.0" font-size="20.4" font-weight="bold">Submodule C</text>
<line x1="989.2" y1="354.0" x2="1042.2" y2="354.0" stroke="#e23a3a" stroke-width="3" stroke-dasharray="11,8"/>
<line x1="989.2" y1="379.5" x2="1042.2" y2="379.5" stroke="#e23a3a" stroke-width="3"/>
<text x="1059.8" y="363.0" font-size="20.4" font-weight="bold">Silicon Oil</text>
<text x="1060.8" y="387.0" font-size="20.4" font-weight="bold">Thermal Grease</text>
<text x="1027" y="670" font-size="20" font-weight="bold">0.47 K/W</text>
<text x="1298.8" y="310.3" font-size="28" font-weight="bold">(c)</text>
<defs><clipPath id="clipb"><rect x="1369" y="313.5" width="431" height="171.89999999999998"/></clipPath><filter id="blurb" x="-50%" y="-50%" width="200%" height="200%"><feGaussianBlur stdDeviation="14"/></filter><filter id="blursb" x="-50%" y="-50%" width="200%" height="200%"><feGaussianBlur stdDeviation="6"/></filter></defs>
<g clip-path="url(#clipb)">
<rect x="1369" y="313.5" width="431" height="171.89999999999998" fill="#7373ec"/>
<defs><filter id="b40b" x="-80%" y="-80%" width="260%" height="260%"><feGaussianBlur stdDeviation="35"/></filter><filter id="b20b" x="-80%" y="-80%" width="260%" height="260%"><feGaussianBlur stdDeviation="18"/></filter><filter id="b10b" x="-80%" y="-80%" width="260%" height="260%"><feGaussianBlur stdDeviation="7"/></filter></defs>
<defs><linearGradient id="redgb" x1="0" x2="0" y1="0" y2="1"><stop offset="0" stop-color="#f9d6d6"/><stop offset="0.55" stop-color="#f6bcbc"/><stop offset="1" stop-color="#f4a6a6"/></linearGradient></defs>
<ellipse cx="1550" cy="372" rx="115" ry="90" fill="#b8b8f3" filter="url(#b40b)"/>
<ellipse cx="1450" cy="395" rx="55" ry="45" fill="#c4c4f6" filter="url(#b20b)"/>
<ellipse cx="1648" cy="340" rx="55" ry="42" fill="#c4c4f5" filter="url(#b20b)"/>
<path d="M1470,292 L1600,292 Q1622,292 1622,320 L1622,400 Q1622,422 1600,422 L1462,422 Q1445,422 1447,400 L1452,320 Q1455,292 1470,292 Z" fill="#ffffff" filter="url(#b10b)"/>
<path d="M1488,285 L1580,285 Q1592,285 1592,300 L1594,400 Q1594,412 1582,412 L1478,412 Q1468,412 1468,400 L1476,300 Q1477,285 1488,285 Z" fill="url(#redgb)" filter="url(#b10b)"/>
<ellipse cx="1560" cy="385" rx="32" ry="26" fill="#f29898" filter="url(#b10b)"/>
<ellipse cx="1389" cy="430.4" rx="60" ry="40" fill="#9a9af0" filter="url(#b20b)"/>
<rect x="1369" y="442.42499999999995" width="431" height="42.97500000000002" fill="#6b6be9"/>
<line x1="1369" y1="442.4" x2="1800" y2="442.4" stroke="#22225a" stroke-width="1.6"/>
<defs><linearGradient id="layb" x1="0" x2="1" y1="0" y2="0"><stop offset="0" stop-color="#c4c4f4"/><stop offset="0.2" stop-color="#f0f0fe"/><stop offset="0.32" stop-color="#ffffff"/><stop offset="0.6" stop-color="#b4b4f2"/><stop offset="1" stop-color="#8c8cee"/></linearGradient></defs>
<rect x="1415.5" y="433.8" width="384.5" height="8.6" fill="#9494f0" stroke="#2a2a55" stroke-width="1.3"/>
<rect x="1415.5" y="429.5" width="384.5" height="4.3" fill="#5a5ac0" stroke="#2a2a55" stroke-width="1.3"/>
<rect x="1458.6" y="430.0" width="160.3" height="2.5" fill="#15153a"/>
<rect x="1415.5" y="416.6" width="384.5" height="12.9" fill="url(#layb)" stroke="#2a2a55" stroke-width="1.3"/>
<rect x="1460.4" y="413.2" width="137.9" height="3.4" fill="#7070c0" stroke="#2a2a55" stroke-width="1.2"/>
<rect x="1503.5" y="402.9" width="41.4" height="10.3" fill="#fbe0e0" stroke="#333" stroke-width="1.2"/>
<rect x="1479.3" y="392.6" width="87.9" height="10.3" fill="#f4a5a5" stroke="#333" stroke-width="1.3"/>
</g>
<rect x="1369" y="313.5" width="431" height="171.89999999999998" fill="none" stroke="#222" stroke-width="2"/>
<line x1="1369" y1="485.4" x2="1374" y2="485.4" stroke="#111" stroke-width="1.5"/>
<line x1="1369" y1="468.2" x2="1372" y2="468.2" stroke="#111" stroke-width="1.5"/>
<line x1="1369" y1="451.0" x2="1374" y2="451.0" stroke="#111" stroke-width="1.5"/>
<line x1="1369" y1="433.8" x2="1372" y2="433.8" stroke="#111" stroke-width="1.5"/>
<line x1="1369" y1="416.6" x2="1374" y2="416.6" stroke="#111" stroke-width="1.5"/>
<line x1="1369" y1="399.4" x2="1372" y2="399.4" stroke="#111" stroke-width="1.5"/>
<line x1="1369" y1="382.3" x2="1374" y2="382.3" stroke="#111" stroke-width="1.5"/>
<line x1="1369" y1="365.1" x2="1372" y2="365.1" stroke="#111" stroke-width="1.5"/>
<line x1="1369" y1="347.9" x2="1374" y2="347.9" stroke="#111" stroke-width="1.5"/>
<line x1="1369" y1="330.7" x2="1372" y2="330.7" stroke="#111" stroke-width="1.5"/>
<line x1="1369" y1="313.5" x2="1374" y2="313.5" stroke="#111" stroke-width="1.5"/>
<line x1="1369.0" y1="485.4" x2="1369.0" y2="480.4" stroke="#111" stroke-width="1.5"/>
<line x1="1412.1" y1="485.4" x2="1412.1" y2="482.4" stroke="#111" stroke-width="1.5"/>
<line x1="1455.2" y1="485.4" x2="1455.2" y2="480.4" stroke="#111" stroke-width="1.5"/>
<line x1="1498.3" y1="485.4" x2="1498.3" y2="482.4" stroke="#111" stroke-width="1.5"/>
<line x1="1541.4" y1="485.4" x2="1541.4" y2="480.4" stroke="#111" stroke-width="1.5"/>
<line x1="1584.5" y1="485.4" x2="1584.5" y2="482.4" stroke="#111" stroke-width="1.5"/>
<line x1="1627.6" y1="485.4" x2="1627.6" y2="480.4" stroke="#111" stroke-width="1.5"/>
<line x1="1670.7" y1="485.4" x2="1670.7" y2="482.4" stroke="#111" stroke-width="1.5"/>
<line x1="1713.8" y1="485.4" x2="1713.8" y2="480.4" stroke="#111" stroke-width="1.5"/>
<line x1="1756.9" y1="485.4" x2="1756.9" y2="482.4" stroke="#111" stroke-width="1.5"/>
<line x1="1800.0" y1="485.4" x2="1800.0" y2="480.4" stroke="#111" stroke-width="1.5"/>
<text x="1362" y="492.9" text-anchor="end" font-size="23.5" font-weight="bold">0</text>
<text x="1362" y="458.5" text-anchor="end" font-size="23.5" font-weight="bold">2</text>
<text x="1362" y="424.1" text-anchor="end" font-size="23.5" font-weight="bold">4</text>
<text x="1362" y="389.8" text-anchor="end" font-size="23.5" font-weight="bold">6</text>
<text x="1362" y="355.4" text-anchor="end" font-size="23.5" font-weight="bold">8</text>
<text x="1362" y="321.0" text-anchor="end" font-size="23.5" font-weight="bold">10</text>
<text x="1369.0" y="510.9" text-anchor="middle" font-size="23.5" font-weight="bold">0</text>
<text x="1455.2" y="510.9" text-anchor="middle" font-size="23.5" font-weight="bold">5</text>
<text x="1541.4" y="510.9" text-anchor="middle" font-size="23.5" font-weight="bold">10</text>
<text x="1627.6" y="510.9" text-anchor="middle" font-size="23.5" font-weight="bold">15</text>
<text x="1713.8" y="510.9" text-anchor="middle" font-size="23.5" font-weight="bold">20</text>
<text x="1800.0" y="510.9" text-anchor="middle" font-size="23.5" font-weight="bold">25</text>
<text transform="translate(1324,399.4) rotate(-90)" text-anchor="middle" font-size="24" font-weight="bold">Position (mm)</text>
<defs><clipPath id="clipc"><rect x="1369" y="542.5" width="431" height="173.0"/></clipPath><filter id="blurc" x="-50%" y="-50%" width="200%" height="200%"><feGaussianBlur stdDeviation="14"/></filter><filter id="blursc" x="-50%" y="-50%" width="200%" height="200%"><feGaussianBlur stdDeviation="6"/></filter></defs>
<g clip-path="url(#clipc)">
<rect x="1369" y="542.5" width="431" height="173.0" fill="#7373ec"/>
<defs><filter id="b40c" x="-80%" y="-80%" width="260%" height="260%"><feGaussianBlur stdDeviation="35"/></filter><filter id="b20c" x="-80%" y="-80%" width="260%" height="260%"><feGaussianBlur stdDeviation="18"/></filter><filter id="b10c" x="-80%" y="-80%" width="260%" height="260%"><feGaussianBlur stdDeviation="7"/></filter></defs>
<ellipse cx="1610" cy="590" rx="170" ry="85" fill="#acacf2" filter="url(#b40c)"/>
<ellipse cx="1630" cy="555" rx="120" ry="35" fill="#bcbcf4" filter="url(#b20c)"/>
<ellipse cx="1660" cy="590" rx="80" ry="45" fill="#b8b8f4" filter="url(#b20c)"/>
<ellipse cx="1485" cy="628" rx="45" ry="28" fill="#cacaf7" filter="url(#b20c)"/>
<ellipse cx="1535" cy="615" rx="65" ry="42" fill="#ececfd" filter="url(#b20c)"/>
<ellipse cx="1525" cy="630" rx="42" ry="18" fill="#ffffff" filter="url(#b10c)"/>
<ellipse cx="1389" cy="660.1" rx="60" ry="40" fill="#9a9af0" filter="url(#b20c)"/>
<rect x="1369" y="672.25" width="431" height="43.25" fill="#6b6be9"/>
<line x1="1369" y1="672.2" x2="1800" y2="672.2" stroke="#22225a" stroke-width="1.6"/>
<defs><linearGradient id="layc" x1="0" x2="1" y1="0" y2="0"><stop offset="0" stop-color="#c4c4f4"/><stop offset="0.2" stop-color="#f0f0fe"/><stop offset="0.32" stop-color="#ffffff"/><stop offset="0.6" stop-color="#b4b4f2"/><stop offset="1" stop-color="#8c8cee"/></linearGradient></defs>
<rect x="1415.5" y="663.6" width="384.5" height="8.6" fill="#9494f0" stroke="#2a2a55" stroke-width="1.3"/>
<rect x="1415.5" y="659.3" width="384.5" height="4.3" fill="#5a5ac0" stroke="#2a2a55" stroke-width="1.3"/>
<rect x="1458.6" y="659.8" width="160.3" height="2.5" fill="#15153a"/>
<rect x="1415.5" y="646.3" width="384.5" height="13.0" fill="url(#layc)" stroke="#2a2a55" stroke-width="1.3"/>
<rect x="1460.4" y="642.8" width="137.9" height="3.5" fill="#7070c0" stroke="#2a2a55" stroke-width="1.2"/>
<rect x="1479.3" y="631.6" width="87.9" height="11.2" fill="#f6f6ff" stroke="#222" stroke-width="1.3"/>
</g>
<rect x="1369" y="542.5" width="431" height="173.0" fill="none" stroke="#222" stroke-width="2"/>
<line x1="1369" y1="715.5" x2="1374" y2="715.5" stroke="#111" stroke-width="1.5"/>
<line x1="1369" y1="698.2" x2="1372" y2="698.2" stroke="#111" stroke-width="1.5"/>
<line x1="1369" y1="680.9" x2="1374" y2="680.9" stroke="#111" stroke-width="1.5"/>
<line x1="1369" y1="663.6" x2="1372" y2="663.6" stroke="#111" stroke-width="1.5"/>
<line x1="1369" y1="646.3" x2="1374" y2="646.3" stroke="#111" stroke-width="1.5"/>
<line x1="1369" y1="629.0" x2="1372" y2="629.0" stroke="#111" stroke-width="1.5"/>
<line x1="1369" y1="611.7" x2="1374" y2="611.7" stroke="#111" stroke-width="1.5"/>
<line x1="1369" y1="594.4" x2="1372" y2="594.4" stroke="#111" stroke-width="1.5"/>
<line x1="1369" y1="577.1" x2="1374" y2="577.1" stroke="#111" stroke-width="1.5"/>
<line x1="1369" y1="559.8" x2="1372" y2="559.8" stroke="#111" stroke-width="1.5"/>
<line x1="1369" y1="542.5" x2="1374" y2="542.5" stroke="#111" stroke-width="1.5"/>
<line x1="1369.0" y1="715.5" x2="1369.0" y2="710.5" stroke="#111" stroke-width="1.5"/>
<line x1="1412.1" y1="715.5" x2="1412.1" y2="712.5" stroke="#111" stroke-width="1.5"/>
<line x1="1455.2" y1="715.5" x2="1455.2" y2="710.5" stroke="#111" stroke-width="1.5"/>
<line x1="1498.3" y1="715.5" x2="1498.3" y2="712.5" stroke="#111" stroke-width="1.5"/>
<line x1="1541.4" y1="715.5" x2="1541.4" y2="710.5" stroke="#111" stroke-width="1.5"/>
<line x1="1584.5" y1="715.5" x2="1584.5" y2="712.5" stroke="#111" stroke-width="1.5"/>
<line x1="1627.6" y1="715.5" x2="1627.6" y2="710.5" stroke="#111" stroke-width="1.5"/>
<line x1="1670.7" y1="715.5" x2="1670.7" y2="712.5" stroke="#111" stroke-width="1.5"/>
<line x1="1713.8" y1="715.5" x2="1713.8" y2="710.5" stroke="#111" stroke-width="1.5"/>
<line x1="1756.9" y1="715.5" x2="1756.9" y2="712.5" stroke="#111" stroke-width="1.5"/>
<line x1="1800.0" y1="715.5" x2="1800.0" y2="710.5" stroke="#111" stroke-width="1.5"/>
<text x="1362" y="723.0" text-anchor="end" font-size="23.5" font-weight="bold">0</text>
<text x="1362" y="688.4" text-anchor="end" font-size="23.5" font-weight="bold">2</text>
<text x="1362" y="653.8" text-anchor="end" font-size="23.5" font-weight="bold">4</text>
<text x="1362" y="619.2" text-anchor="end" font-size="23.5" font-weight="bold">6</text>
<text x="1362" y="584.6" text-anchor="end" font-size="23.5" font-weight="bold">8</text>
<text x="1362" y="550.0" text-anchor="end" font-size="23.5" font-weight="bold">10</text>
<text x="1369.0" y="741.0" text-anchor="middle" font-size="23.5" font-weight="bold">0</text>
<text x="1455.2" y="741.0" text-anchor="middle" font-size="23.5" font-weight="bold">5</text>
<text x="1541.4" y="741.0" text-anchor="middle" font-size="23.5" font-weight="bold">10</text>
<text x="1627.6" y="741.0" text-anchor="middle" font-size="23.5" font-weight="bold">15</text>
<text x="1713.8" y="741.0" text-anchor="middle" font-size="23.5" font-weight="bold">20</text>
<text x="1800.0" y="741.0" text-anchor="middle" font-size="23.5" font-weight="bold">25</text>
<text transform="translate(1324,629.0) rotate(-90)" text-anchor="middle" font-size="24" font-weight="bold">Position (mm)</text>
<defs><linearGradient id="cbb" x1="0" x2="0" y1="1" y2="0"><stop offset="0" stop-color="#6c6cee"/><stop offset="0.18" stop-color="#9a9af2"/><stop offset="0.38" stop-color="#d6d6f8"/><stop offset="0.49" stop-color="#ffffff"/><stop offset="0.58" stop-color="#fce2e2"/><stop offset="0.78" stop-color="#f7a4a4"/><stop offset="1" stop-color="#f36464"/></linearGradient></defs>
<rect x="1819.5" y="313.7" width="27.5" height="172.8" fill="url(#cbb)" stroke="#333" stroke-width="1.6"/>
<line x1="1847" y1="486.5" x2="1853" y2="486.5" stroke="#333" stroke-width="1.3"/>
<text x="1860" y="493.5" font-size="20">23</text>
<line x1="1847" y1="435.2" x2="1853" y2="435.2" stroke="#333" stroke-width="1.3"/>
<text x="1860" y="442.2" font-size="20">43</text>
<line x1="1847" y1="384.0" x2="1853" y2="384.0" stroke="#333" stroke-width="1.3"/>
<text x="1860" y="391.0" font-size="20">63</text>
<line x1="1847" y1="332.7" x2="1853" y2="332.7" stroke="#333" stroke-width="1.3"/>
<text x="1860" y="339.7" font-size="20">83</text>
<text x="1805" y="303.5" font-size="19" font-weight="bold" textLength="52" lengthAdjust="spacing"><tspan font-style="italic">T</tspan> (<tspan font-size="12" dy="-7">o</tspan><tspan dy="7">C)</tspan></text>
<defs><linearGradient id="cbc" x1="0" x2="0" y1="1" y2="0"><stop offset="0" stop-color="#6c6cee"/><stop offset="0.18" stop-color="#9a9af2"/><stop offset="0.38" stop-color="#d6d6f8"/><stop offset="0.49" stop-color="#ffffff"/><stop offset="0.58" stop-color="#fce2e2"/><stop offset="0.78" stop-color="#f7a4a4"/><stop offset="1" stop-color="#f36464"/></linearGradient></defs>
<rect x="1819.5" y="542" width="27.5" height="174.5" fill="url(#cbc)" stroke="#333" stroke-width="1.6"/>
<line x1="1847" y1="716.5" x2="1853" y2="716.5" stroke="#333" stroke-width="1.3"/>
<text x="1860" y="723.5" font-size="20">23</text>
<line x1="1847" y1="664.7" x2="1853" y2="664.7" stroke="#333" stroke-width="1.3"/>
<text x="1860" y="671.7" font-size="20">43</text>
<line x1="1847" y1="613.0" x2="1853" y2="613.0" stroke="#333" stroke-width="1.3"/>
<text x="1860" y="620.0" font-size="20">63</text>
<line x1="1847" y1="561.2" x2="1853" y2="561.2" stroke="#333" stroke-width="1.3"/>
<text x="1860" y="568.2" font-size="20">83</text>
<text x="1811" y="529.3" font-size="19" font-weight="bold" textLength="52" lengthAdjust="spacing"><tspan font-style="italic">T</tspan> (<tspan font-size="12" dy="-7">o</tspan><tspan dy="7">C)</tspan></text>

<text x="1381" y="332" font-size="20" font-weight="bold" fill="#d8101a">Submodule B</text>
<text x="1381" y="356.5" font-size="20" font-weight="bold" fill="#d8101a">P<tspan font-size="13" dy="4">Loss</tspan><tspan dy="-4"> =20 W</tspan></text>
<polyline points="1527,398 1527,335.5 1562,335.5" fill="none" stroke="#d8101a" stroke-width="2"/><polygon points="1571,335.5 1560,331.5 1560,339.5" fill="#d8101a"/>
<polyline points="1550.5,401 1550.5,356.5 1571,356.5" fill="none" stroke="#d8101a" stroke-width="2"/><polygon points="1580,356.5 1569,352.5 1569,360.5" fill="#d8101a"/>
<text x="1587" y="342" font-size="19.7" font-weight="bold"><tspan font-style="italic">T</tspan><tspan font-size="13" dy="4">j</tspan><tspan dy="-4">= 74.4 </tspan><tspan font-size="12" dy="-7">o</tspan><tspan dy="7">C</tspan></text>
<text x="1587" y="367.5" font-size="19.7" font-weight="bold"><tspan font-style="italic">T</tspan><tspan font-size="13" dy="4">peak</tspan><tspan dy="-4">= 88.9 </tspan><tspan font-size="12" dy="-7">o</tspan><tspan dy="7">C</tspan></text>
<text x="1374" y="383" font-size="20" font-weight="bold" fill="#111">Ga<tspan font-size="14" dy="4">2</tspan><tspan dy="-4">O</tspan><tspan font-size="14" dy="4">3</tspan><tspan dy="-4"> die</tspan></text>
<line x1="1466" y1="386" x2="1509" y2="391" stroke="#111" stroke-width="2"/><circle cx="1509" cy="391" r="2.6" fill="#111"/>
<text x="1399" y="408" font-size="20" font-weight="bold" fill="#111">Post</text>
<line x1="1450" y1="405.5" x2="1503" y2="410" stroke="#111" stroke-width="2"/><circle cx="1503" cy="410" r="2.6" fill="#111"/>
<text x="1453.5" y="469.5" font-size="20" font-weight="bold" fill="#14143c">Cooling plate</text>
<text x="1638" y="463" font-size="20" font-weight="bold" fill="#14143c">Thermal grease</text>


<text x="1383.5" y="566" font-size="20" font-weight="bold" fill="#d8101a">Submodule C</text>
<text x="1383.5" y="590" font-size="20" font-weight="bold" fill="#d8101a">P<tspan font-size="13" dy="4">Loss</tspan><tspan dy="-4"> =20 W</tspan></text>
<polyline points="1528.5,640 1528.5,575.5 1562,575.5" fill="none" stroke="#d8101a" stroke-width="2"/><polygon points="1571,575.5 1560,571.5 1560,579.5" fill="#d8101a"/>
<text x="1580.5" y="581" font-size="19.7" font-weight="bold">T<tspan font-size="13" dy="4">j</tspan><tspan dy="-4">=57.4 </tspan><tspan font-size="12" dy="-7">o</tspan><tspan dy="7">C</tspan></text>
<text x="1383.5" y="625.5" font-size="20" font-weight="bold" fill="#111">Ga<tspan font-size="14" dy="4">2</tspan><tspan dy="-4">O</tspan><tspan font-size="14" dy="4">3</tspan><tspan dy="-4"> die</tspan></text>
<line x1="1456.5" y1="632" x2="1500.5" y2="637" stroke="#111" stroke-width="2"/><circle cx="1500.5" cy="637" r="2.6" fill="#111"/>
<text x="1457" y="702" font-size="20" font-weight="bold" fill="#14143c">Cooling plate</text>
<text x="1646" y="696" font-size="20" font-weight="bold" fill="#14143c">Thermal grease</text>

</svg>
</body></html>
